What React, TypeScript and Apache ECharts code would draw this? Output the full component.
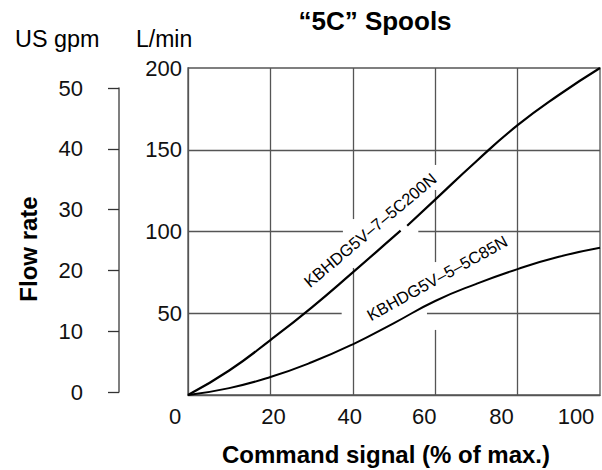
import React, { useEffect, useRef } from "react";
import * as echarts from "echarts";

// ---- data ----
const signalTicks = [0, 20, 40, 60, 80, 100];
const lminTicks = [0, 50, 100, 150, 200];
const gpmTicks = [0, 10, 20, 30, 40, 50];

const spool200Name = "KBHDG5V–7–5C200N";
const spool200Signal = [0, 10, 20, 30, 40, 50, 51.6, 52.4, 53.2, 60, 70, 80, 90, 100];
const spool200Flow: (number | null)[] = [0, 15, 33.6, 53.5, 75, 97, 100.5, null, 103.5, 119.5, 143, 165, 183.5, 200];

const spool85Name = "KBHDG5V–5–5C85N";
const spool85Signal = [0, 10, 20, 30, 40, 50, 60, 70, 80, 90, 100];
const spool85Flow = [0, 4.2, 11, 20, 31, 44, 57.5, 68, 77, 84.5, 90];

// grid-line breaks (data units): [level, from, to]
const hGridSegments = [
  [50, 0, 37.3], [50, 58, 100],
  [100, 0, 37.6], [100, 55.9, 100],
  [150, 0, 100],
];
const vGridSegments = [
  [20, 0, 200],
  [40, 0, 77.7], [40, 107.6, 200],
  [60, 0, 39.8], [60, 81.3, 125.4], [60, 140.7, 200],
  [80, 0, 200],
];

const FONT = '"Liberation Sans", Arial, Helvetica, sans-serif';
const GRID_COLOR = "#555";

export default function App() {
  const ref = useRef<HTMLDivElement>(null);

  useEffect(() => {
    if (!ref.current) return;
    const chart = echarts.init(ref.current, undefined, { renderer: "svg" });

    const xShift: Record<number, number> = { 0: -13, 20: 3, 40: -3, 60: -11, 80: -16, 100: -24 };
    const rich: Record<string, any> = {};
    signalTicks.forEach((t, i) => {
      const s = xShift[t] || 0;
      rich["x" + i] = {
        fontSize: 22,
        fontFamily: FONT,
        color: "#111",
        padding: s < 0 ? [0, -2 * s, 0, 0] : [0, 0, 0, 2 * s],
      };
    });

    const markData: any[] = [];
    hGridSegments.forEach(([y, a, b]) => markData.push([{ coord: [a, y] }, { coord: [b, y] }]));
    vGridSegments.forEach(([x, a, b]) => markData.push([{ coord: [x, a] }, { coord: [x, b] }]));

    const option: any = {
      animation: false,
      backgroundColor: "#fff",
      grid: [
        { left: 188, right: 2, top: 68, bottom: 75, show: true, borderColor: GRID_COLOR, borderWidth: 1.3, backgroundColor: "transparent" },
        { left: 119, width: 1, top: 88, height: 304 },
      ],
      xAxis: [
        {
          type: "value",
          gridIndex: 0,
          min: signalTicks[0],
          max: signalTicks[signalTicks.length - 1],
          interval: 20,
          axisLine: { show: true, lineStyle: { color: GRID_COLOR, width: 1.3 } },
          axisTick: { show: false },
          splitLine: { show: false },
          axisLabel: {
            margin: 10,
            formatter: (v: number) => {
              const i = signalTicks.indexOf(v);
              return `{x${i}|${v}}`;
            },
            rich,
          },
        },
        { type: "value", gridIndex: 1, show: false, min: 0, max: 1 },
      ],
      yAxis: [
        {
          type: "value",
          gridIndex: 0,
          min: lminTicks[0],
          max: lminTicks[lminTicks.length - 1],
          interval: 50,
          axisLine: { show: true, lineStyle: { color: GRID_COLOR, width: 1.3 } },
          axisTick: { show: false },
          splitLine: { show: false },
          axisLabel: { showMinLabel: false, margin: 6, fontSize: 22, fontFamily: FONT, color: "#111" },
        },
        {
          type: "value",
          gridIndex: 1,
          min: gpmTicks[0],
          max: gpmTicks[gpmTicks.length - 1],
          interval: 10,
          axisLine: { show: true, lineStyle: { color: GRID_COLOR, width: 1.5 } },
          axisTick: { show: true, length: 11, lineStyle: { color: "#333", width: 1.3 } },
          splitLine: { show: false },
          axisLabel: { margin: 36, fontSize: 22, fontFamily: FONT, color: "#111" },
        },
      ],
      series: [
        {
          name: spool85Name,
          type: "line",
          xAxisIndex: 0,
          yAxisIndex: 0,
          data: spool85Signal.map((x, i) => [x, spool85Flow[i]]),
          smooth: 0.5,
          showSymbol: false,
          symbol: "none",
          lineStyle: { color: "#000", width: 2 },
          z: 3,
          markLine: {
            silent: true,
            symbol: ["none", "none"],
            label: { show: false },
            lineStyle: { color: GRID_COLOR, width: 1.3, type: "solid" },
            emphasis: { disabled: true },
            data: markData,
            z: 1,
          },
        },
        {
          name: spool200Name,
          type: "line",
          xAxisIndex: 0,
          yAxisIndex: 0,
          data: spool200Signal.map((x, i) => [x, spool200Flow[i] === null ? "-" : spool200Flow[i]]),
          smooth: 0.5,
          connectNulls: false,
          showSymbol: false,
          symbol: "none",
          lineStyle: { color: "#000", width: 2.2 },
          z: 3,
        },
      ],
      graphic: [
        { type: "text", x: 375, y: 21, style: { text: "“5C” Spools", font: `bold 26px ${FONT}`, fill: "#000", align: "center", verticalAlign: "middle" } },
        { type: "text", x: 15, y: 39, style: { text: "US gpm", font: `23.4px ${FONT}`, fill: "#000", align: "left", verticalAlign: "middle" } },
        { type: "text", x: 136, y: 39, style: { text: "L/min", font: `23px ${FONT}`, fill: "#000", align: "left", verticalAlign: "middle" } },
        { type: "text", x: 28, y: 249, rotation: Math.PI / 2, style: { text: "Flow rate", font: `bold 24px ${FONT}`, fill: "#000", align: "center", verticalAlign: "middle" } },
        { type: "text", x: 386, y: 454, style: { text: "Command signal (% of max.)", font: `bold 24px ${FONT}`, fill: "#000", align: "center", verticalAlign: "middle" } },
        { type: "text", x: 370, y: 230, rotation: (40 * Math.PI) / 180, style: { text: spool200Name, font: `16.5px ${FONT}`, fill: "#000", align: "center", verticalAlign: "middle" } },
        { type: "text", x: 437, y: 278, rotation: (29 * Math.PI) / 180, style: { text: spool85Name, font: `16.5px ${FONT}`, fill: "#000", align: "center", verticalAlign: "middle" } },
      ],
    };

    chart.setOption(option);
    return () => chart.dispose();
  }, []);

  return <div ref={ref} style={{ position: "fixed", left: 0, top: 0, width: 602, height: 470, background: "#fff" }} />;
}
